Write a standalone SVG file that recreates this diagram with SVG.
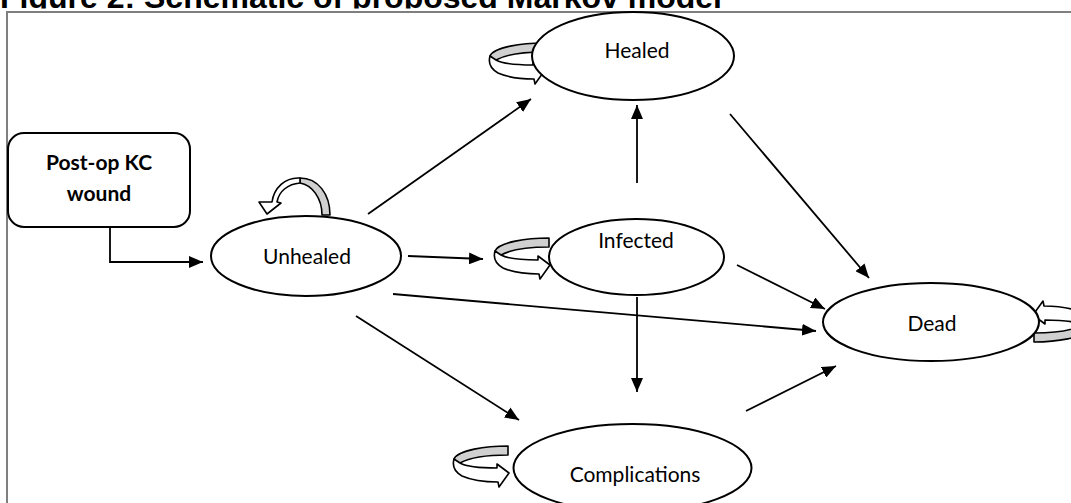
<svg xmlns="http://www.w3.org/2000/svg" width="1071" height="503" viewBox="0 0 1071 503">
<defs>
<style>
.title{font-family:"Liberation Sans",Arial,sans-serif;font-weight:bold;font-size:32px;fill:#000}
.lbl{font-family:Lato,"Open Sans",sans-serif;font-size:21px;fill:#000;text-anchor:middle}
.blbl{font-family:Lato,"Open Sans",sans-serif;font-size:21px;font-weight:bold;fill:#000;text-anchor:middle}
.node{fill:#fff;stroke:#000;stroke-width:2}
.conn{stroke:#000;stroke-width:1.8;fill:none;marker-end:url(#ah)}
.band{fill:#d0d0d0;stroke:#000;stroke-width:1.6;stroke-linejoin:round}
.front{fill:#fff;stroke:#000;stroke-width:1.6;stroke-linejoin:round}
</style>
<clipPath id="tclip"><rect x="0" y="0" width="1071" height="8.5"/></clipPath>
<marker id="ah" markerUnits="userSpaceOnUse" markerWidth="15" markerHeight="12" refX="14" refY="6" orient="auto">
<path d="M0,0 L14,6 L0,12 Z" fill="#000"/>
</marker>
<g id="loopR">
<path class="band" d="M544,43 C522,43 494,47 490,56 C492,59 494,60 496,60 C505,55 522,52 544,52 Z"/>
<path class="front" d="M490,56 C488,63 491,69 498,73 C507,77 520,79 534,79 L535,84 L545,70 L533,61 L533,65 C518,65 503,64 496,60 Z"/>
</g>
</defs>
<text class="title" x="0" y="7.5" clip-path="url(#tclip)">Figure 2: Schematic of proposed Markov model</text>
<rect x="7" y="12" width="1070" height="500" fill="none" stroke="#7f7f7f" stroke-width="2"/>

<g id="loops">
<use href="#loopR"/>
<use href="#loopR" transform="translate(5,195)"/>
<use href="#loopR" transform="translate(-36,403)"/>
<use href="#loopR" transform="translate(1578,385) rotate(180)"/>
<g id="loop-unhealed">
<path class="band" d="M300,178 C318,178 330,194 330,215 L322,215 C322,198 312,185 300,183 Z"/>
<path class="front" d="M300,178 C285,177 274,188 272,202 L259,202 L267,214 L281,203 L277,202 C279,191 288,184 300,183 Z"/>
</g>
</g>

<g id="connectors">
<path class="conn" d="M110,227 L110,262 L203,262"/>
<path class="conn" d="M368,214 L531,99"/>
<path class="conn" d="M408,256 L483,259"/>
<path class="conn" d="M393,294 L816,331"/>
<path class="conn" d="M356,316 L519,420"/>
<path class="conn" d="M637,183 L637,105"/>
<path class="conn" d="M637,297 L637,392"/>
<path class="conn" d="M737,265 L825,309"/>
<path class="conn" d="M730,114 L869,278"/>
<path class="conn" d="M746,411 L836,366"/>
</g>

<g id="node-postop">
<rect class="node" x="8" y="133" width="182" height="94" rx="16"/>
<text class="blbl" x="99" y="170">Post-op KC</text>
<text class="blbl" x="99" y="201">wound</text>
</g>
<g id="node-unhealed">
<ellipse class="node" cx="306" cy="256" rx="95" ry="40"/>
<text class="lbl" x="307" y="264">Unhealed</text>
</g>
<g id="node-healed">
<ellipse class="node" cx="633" cy="56" rx="101" ry="44"/>
<text class="lbl" x="637" y="58">Healed</text>
</g>
<g id="node-infected">
<ellipse class="node" cx="636.5" cy="257" rx="87.5" ry="38"/>
<text class="lbl" x="636" y="248">Infected</text>
</g>
<g id="node-complications">
<ellipse class="node" cx="632.5" cy="468" rx="119" ry="44"/>
<text class="lbl" x="635" y="482">Complications</text>
</g>
<g id="node-dead">
<ellipse class="node" cx="931" cy="322" rx="108" ry="39"/>
<text class="lbl" x="932" y="331">Dead</text>
</g>
</svg>
